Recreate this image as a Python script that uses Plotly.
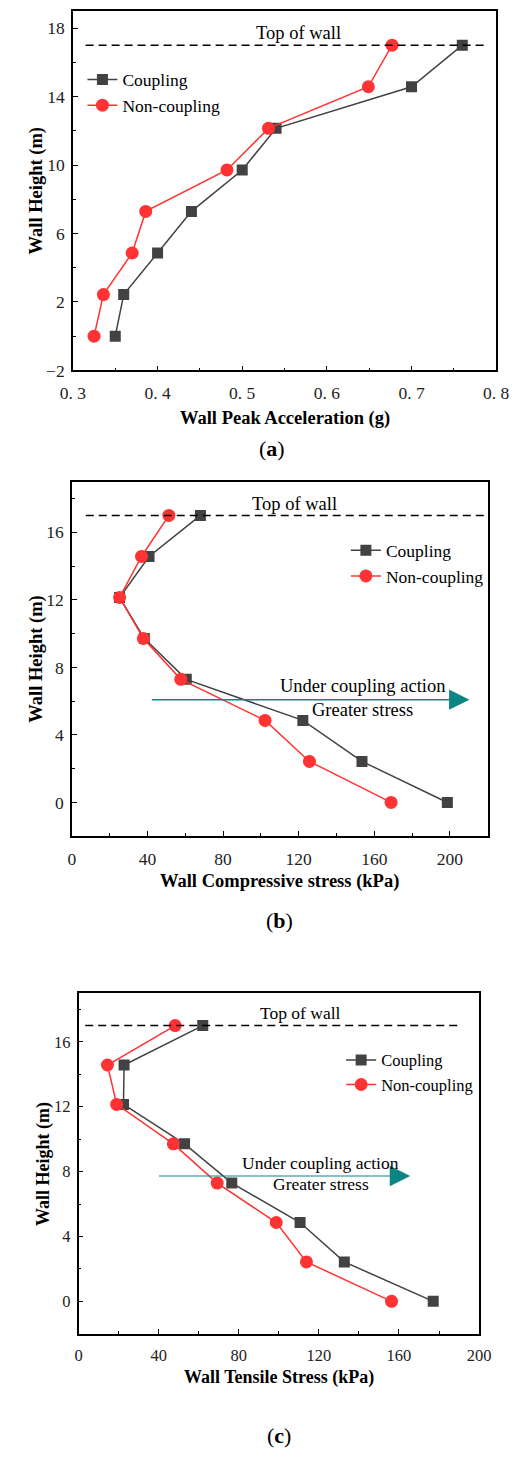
import plotly.graph_objects as go

# ---------------- data ----------------
heights = [0, 2.43, 4.86, 7.29, 9.71, 12.14, 14.57, 17]

acc_coupling = [0.350, 0.360, 0.400, 0.440, 0.500, 0.540, 0.700, 0.760]
acc_noncoupling = [0.325, 0.336, 0.370, 0.386, 0.482, 0.531, 0.649, 0.677]

comp_coupling = [198.7, 153.5, 122.2, 60.5, 38.3, 25.2, 40.8, 68.0]
comp_noncoupling = [168.9, 125.7, 102.2, 57.6, 37.8, 25.2, 36.8, 51.3]

tens_coupling = [177.1, 132.7, 110.6, 76.5, 52.9, 22.4, 22.7, 62.0]
tens_noncoupling = [156.3, 113.8, 98.7, 69.2, 47.3, 19.0, 14.4, 48.2]

acc_tickvals = [0.3, 0.4, 0.5, 0.6, 0.7, 0.8]
acc_ticktext = ["0. 3", "0. 4", "0. 5", "0. 6", "0. 7", "0. 8"]
acc_yticks = [-2, 2, 6, 10, 14, 18]
stress_yticks = [0, 4, 8, 12, 16]
stress_xticks = [0, 40, 80, 120, 160, 200]

series_names = ["Coupling", "Non-coupling"]
panel_labels = ["a", "b", "c"]
x_titles = ["Wall Peak Acceleration (g)", "Wall Compressive stress (kPa)", "Wall Tensile Stress (kPa)"]
y_title = "Wall Height (m)"
top_label = "Top of wall"
arrow_texts = ["Under coupling action", "Greater stress"]

# ---------------- layout helpers ----------------
W, H = 532, 1458
FONT = "Liberation Serif"
GRAY = "#424242"
RED = "#ff3333"
TEAL = "#0e8585"


def px(x):
    return x / W


def py(y):
    return 1 - y / H


panels = [
    dict(l=63, r=508, t=11, b=373),
    dict(l=62, r=499, t=485, b=842),
    dict(l=69, r=490, t=1000, b=1343),
]

fig = go.Figure()

datasets = [
    (acc_coupling, acc_noncoupling),
    (comp_coupling, comp_noncoupling),
    (tens_coupling, tens_noncoupling),
]
legend_ids = ["legend", "legend2", "legend3"]
for i, (c, n) in enumerate(datasets):
    xa = "x" if i == 0 else f"x{i+1}"
    ya = "y" if i == 0 else f"y{i+1}"
    fig.add_trace(go.Scatter(
        x=c, y=heights, xaxis=xa, yaxis=ya, mode="lines+markers",
        name=series_names[0], legend=legend_ids[i],
        line=dict(color=GRAY, width=1.5),
        marker=dict(symbol="square", size=11, color=GRAY),
    ))
    fig.add_trace(go.Scatter(
        x=n, y=heights, xaxis=xa, yaxis=ya, mode="lines+markers",
        name=series_names[1], legend=legend_ids[i],
        line=dict(color=RED, width=1.5),
        marker=dict(symbol="circle", size=13, color=RED),
    ))

axis_common = dict(
    showline=True, linecolor="black", linewidth=1.5, mirror=True,
    ticks="inside", ticklen=5, tickwidth=1.2, tickcolor="black",
    showgrid=False, zeroline=False,
)

tick_sizes = [17.5, 17.5, 16.5]
for i, p in enumerate(panels):
    suf = "" if i == 0 else str(i + 1)
    xdom = [px(p["l"]), px(p["r"])]
    ydom = [py(p["b"]), py(p["t"])]
    tf = dict(family=FONT, size=tick_sizes[i], color="#222")
    xa = dict(axis_common, domain=xdom, anchor=f"y{suf}", tickfont=tf, ticklabelstandoff=6,
              minor=dict(ticks="inside", ticklen=3, tickwidth=1.2, tickcolor="black"))
    ya = dict(axis_common, domain=ydom, anchor=f"x{suf}", tickfont=tf, ticklabelstandoff=3,
              minor=dict(ticks="inside", ticklen=3, tickwidth=1.2, tickcolor="black"))
    if i == 0:
        xa.update(range=[0.3, 0.8], tickmode="array", tickvals=acc_tickvals, ticktext=acc_ticktext)
        xa["minor"].update(dtick=0.05, tick0=0.3)
        ya.update(range=[-2, 19], tickmode="array", tickvals=acc_yticks)
        ya["minor"].update(dtick=2, tick0=0)
    else:
        xa.update(range=[0, 220 if i == 1 else 200], tickmode="array", tickvals=stress_xticks)
        xa["minor"].update(dtick=20, tick0=0)
        ya.update(range=[-2, 19], tickmode="array", tickvals=stress_yticks)
        ya["minor"].update(dtick=2, tick0=0)
    fig.update_layout(**{f"xaxis{suf}": xa, f"yaxis{suf}": ya})

annotations = []
shapes = []

# axis titles and panel labels
xtitle_y = [421.7, 888, 1386.7]
label_y = [451.7, 926.7, 1445]
ytitle_x = [25, 25, 32]
title_sizes = [18.5, 18.5, 18]
for i, p in enumerate(panels):
    cx = (p["l"] + p["r"]) / 2
    annotations.append(dict(
        xref="paper", yref="paper", x=px(cx), y=py(xtitle_y[i]),
        text=f"<b>{x_titles[i]}</b>", showarrow=False,
        font=dict(family=FONT, size=title_sizes[i], color="black"),
        xanchor="center", yanchor="middle"))
    annotations.append(dict(
        xref="paper", yref="paper", x=px(ytitle_x[i]), y=py((p["t"] + p["b"]) / 2),
        text=f"<b>{y_title}</b>", showarrow=False, textangle=-90,
        font=dict(family=FONT, size=title_sizes[i], color="black"),
        xanchor="center", yanchor="middle"))
    annotations.append(dict(
        xref="paper", yref="paper", x=px(272 if i == 0 else cx), y=py(label_y[i]),
        text=f"(<b>{panel_labels[i]}</b>)", showarrow=False,
        font=dict(family=FONT, size=22, color="black"),
        xanchor="center", yanchor="middle"))

# top of wall dashed line + label
top_lines = [(0.315, 0.790), (7.3, 219), (3.3, 191)]
top_text_x = [0.566, 118, 110.8]
top_text_y = [17.7, 17.7, 17.8]
top_sizes = [18.5, 18.5, 17.5]
for i in range(3):
    suf = "" if i == 0 else str(i + 1)
    shapes.append(dict(type="line", xref=f"x{suf}", yref=f"y{suf}",
                       x0=top_lines[i][0], x1=top_lines[i][1], y0=17, y1=17,
                       line=dict(color="black", width=1.5, dash="8px,5px")))
    annotations.append(dict(xref=f"x{suf}", yref=f"y{suf}", x=top_text_x[i], y=top_text_y[i],
                            text=top_label, showarrow=False,
                            font=dict(family=FONT, size=top_sizes[i], color="black"),
                            xanchor="center", yanchor="middle"))

# arrows in (b) and (c)
arrow_specs = [
    dict(suf="2", x0=41.5, x1=210.4, y=6.09, tx=153.7, ty1=6.9, ty2=5.5, size=18.5, w=1.5),
    dict(suf="3", x0=39.4, x1=165.6, y=7.73, tx=121.0, ty1=8.55, ty2=7.24, size=17.5, w=1.1),
]
for a in arrow_specs:
    annotations.append(dict(
        xref=f"x{a['suf']}", yref=f"y{a['suf']}", x=a["x1"], y=a["y"],
        axref=f"x{a['suf']}", ayref=f"y{a['suf']}", ax=a["x0"], ay=a["y"],
        text="", showarrow=True, arrowhead=2, arrowsize=3.4 / a["w"] * 1.2,
        arrowwidth=a["w"], arrowcolor=TEAL, standoff=0))
    annotations.append(dict(
        xref=f"x{a['suf']}", yref=f"y{a['suf']}", x=a["tx"], y=a["ty1"],
        text=arrow_texts[0], showarrow=False,
        font=dict(family=FONT, size=a["size"], color="black"),
        xanchor="center", yanchor="middle"))
    annotations.append(dict(
        xref=f"x{a['suf']}", yref=f"y{a['suf']}", x=a["tx"], y=a["ty2"],
        text=arrow_texts[1], showarrow=False,
        font=dict(family=FONT, size=a["size"], color="black"),
        xanchor="center", yanchor="middle"))

legend_pos = [(73, 62, 17.5), (350, 536, 17.5), (345, 1050, 16.5)]
leg_layout = {}
for i, (lx, ly, fs) in enumerate(legend_pos):
    leg_layout[legend_ids[i]] = dict(
        x=px(lx), y=py(ly), xanchor="left", yanchor="top",
        xref="paper", yref="paper",
        bgcolor="rgba(0,0,0,0)", borderwidth=0,
        font=dict(family=FONT, size=fs, color="black"),
        tracegroupgap=0,
    )

fig.update_layout(
    width=W, height=H,
    margin=dict(l=0, r=0, t=0, b=0),
    paper_bgcolor="white", plot_bgcolor="white",
    showlegend=True,
    annotations=annotations, shapes=shapes,
    font=dict(family=FONT, color="black"),
    **leg_layout,
)

fig.write_html("out.html")
